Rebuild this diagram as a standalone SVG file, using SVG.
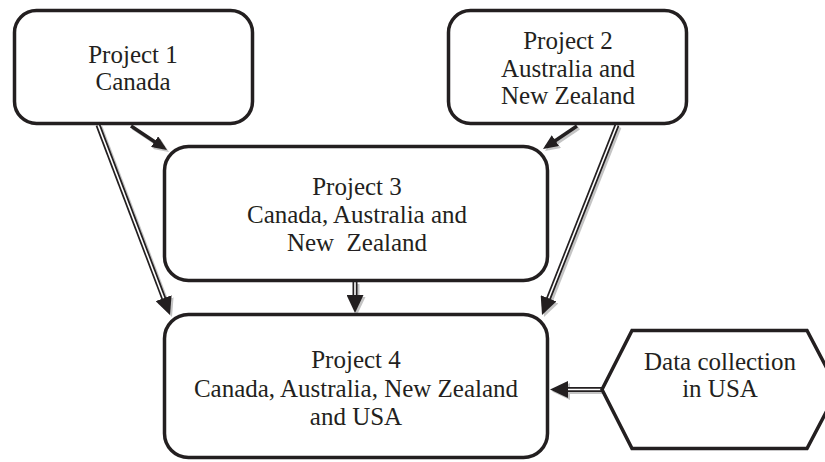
<svg xmlns="http://www.w3.org/2000/svg" width="825" height="462" viewBox="0 0 825 462">
<style>
.box{fill:#fff;stroke:#231f20;stroke-width:3.5}
.t{font-family:"Liberation Serif","Times New Roman",serif;font-size:25px;fill:#231f20;text-anchor:middle}
.s1{fill:none;stroke:#231f20;stroke-width:3.5}
.s1sh{fill:none;stroke:#c4c4c4;stroke-width:3.5}
.d1{fill:none;stroke:#231f20;stroke-width:5}
.d1sh{fill:none;stroke:#c4c4c4;stroke-width:5}
.d2{fill:none;stroke:#fff;stroke-width:1.6}
</style>
<defs>
<marker id="ha" markerUnits="userSpaceOnUse" markerWidth="15" markerHeight="13" refX="11" refY="6.5" orient="auto"><path d="M0,0 L15,6.5 L0,13 z" fill="#231f20"/></marker>
<marker id="has" markerUnits="userSpaceOnUse" markerWidth="15" markerHeight="13" refX="11" refY="6.5" orient="auto"><path d="M0,0 L15,6.5 L0,13 z" fill="#c4c4c4"/></marker>
<marker id="hd" markerUnits="userSpaceOnUse" markerWidth="18" markerHeight="17" refX="4" refY="8.5" orient="auto"><path d="M0,0 L18,8.5 L0,17 z" fill="#231f20"/></marker>
<marker id="hds" markerUnits="userSpaceOnUse" markerWidth="18" markerHeight="17" refX="4" refY="8.5" orient="auto"><path d="M0,0 L18,8.5 L0,17 z" fill="#c4c4c4"/></marker>
</defs>
<rect width="825" height="462" fill="#fff"/>
<g id="connectors">
<g transform="translate(2,2)">
<path class="s1sh" d="M131,126 L163.7,147.8" marker-end="url(#has)"/>
<path class="s1sh" d="M577,126 L546.3,146.8" marker-end="url(#has)"/>
<path class="d1sh" d="M98,125 L165.04,301.91" marker-end="url(#hds)"/>
<path class="d1sh" d="M355,282 L355,299" marker-end="url(#hds)"/>
<path class="d1sh" d="M617,125 L547.14,301.98" marker-end="url(#hds)"/>
<path class="d1sh" d="M602,389.5 L564,389.5" marker-end="url(#hds)"/>
</g>
<path class="s1" d="M131,126 L163.7,147.8" marker-end="url(#ha)"/>
<path class="s1" d="M577,126 L546.3,146.8" marker-end="url(#ha)"/>
<path class="d1" d="M98,125 L165.04,301.91" marker-end="url(#hd)"/>
<path class="d2" d="M98,125 L163.62,298.17"/>
<path class="d1" d="M355,282 L355,299" marker-end="url(#hd)"/>
<path class="d2" d="M355,282 L355,295"/>
<path class="d1" d="M617,125 L547.14,301.98" marker-end="url(#hd)"/>
<path class="d2" d="M617,125 L548.61,298.26"/>
<path class="d1" d="M602,389.5 L564,389.5" marker-end="url(#hd)"/>
<path class="d2" d="M602,389.5 L568,389.5"/>
</g>
<g id="project1">
<rect class="box" x="14.5" y="10.5" width="238" height="113" rx="22"/>
<text class="t" x="133" y="63">Project 1</text>
<text class="t" x="133" y="90">Canada</text>
</g>
<g id="project2">
<rect class="box" x="448.5" y="10.5" width="238" height="113" rx="22"/>
<text class="t" x="568" y="49">Project 2</text>
<text class="t" x="568" y="77">Australia and</text>
<text class="t" x="568" y="104">New Zealand</text>
</g>
<g id="project3">
<rect class="box" x="164.5" y="146.5" width="383" height="134" rx="24"/>
<text class="t" x="357" y="195">Project 3</text>
<text class="t" x="357" y="223">Canada, Australia and</text>
<text class="t" x="357" y="251">New&#160; Zealand</text>
</g>
<g id="project4">
<rect class="box" x="164.5" y="314.5" width="383" height="143" rx="24"/>
<text class="t" x="356" y="368">Project 4</text>
<text class="t" x="356" y="397">Canada, Australia, New Zealand</text>
<text class="t" x="356" y="425">and USA</text>
</g>
<g id="datacollection">
<polygon class="box" points="602,389.5 632,330.5 807,330.5 838,389.5 807,448.5 632,448.5"/>
<text class="t" x="720" y="370">Data collection</text>
<text class="t" x="720" y="397">in USA</text>
</g>
</svg>
